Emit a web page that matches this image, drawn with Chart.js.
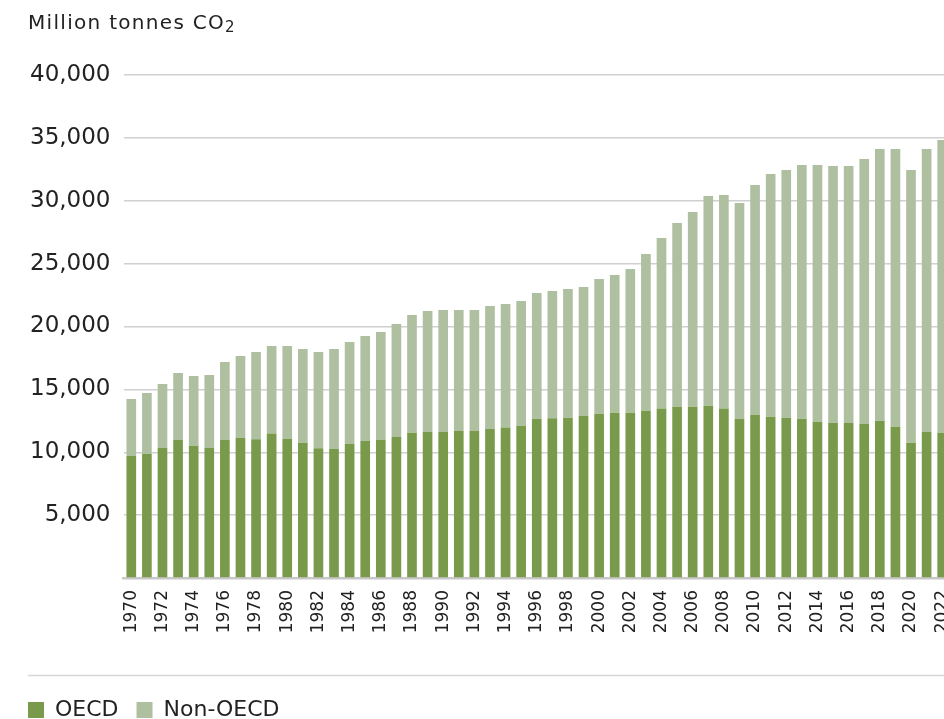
<!DOCTYPE html>
<html><head><meta charset="utf-8">
<script src="https://cdn.jsdelivr.net/npm/chart.js@4"></script>
<style>
html,body{margin:0;padding:0;background:#fff;overflow:hidden;width:944px;height:719px;}
#sub{position:absolute;left:28px;top:10px;font-family:"DejaVu Sans";font-size:20px;line-height:24px;letter-spacing:1.3px;color:#222;white-space:nowrap;z-index:2;}
#sub span{font-size:15px;position:relative;top:3px;}
#c{position:absolute;left:0;top:0;}
</style></head>
<body>
<div id="sub">Million tonnes CO<span>2</span></div>
<canvas id="c" width="950" height="731"></canvas>
<script>
const years = ['1970','1971','1972','1973','1974','1975','1976','1977','1978','1979',
  '1980','1981','1982','1983','1984','1985','1986','1987','1988','1989',
  '1990','1991','1992','1993','1994','1995','1996','1997','1998','1999',
  '2000','2001','2002','2003','2004','2005','2006','2007','2008','2009',
  '2010','2011','2012','2013','2014','2015','2016','2017','2018','2019',
  '2020','2021','2022'];
const oecd = [9700,9860,10340,10970,10500,10340,10970,11130,11030,11500,
  11050,10760,10310,10260,10680,10895,10970,11210,11560,11610,
  11610,11690,11690,11850,11960,12110,12670,12700,12750,12880,
  13070,13150,13150,13310,13470,13625,13625,13700,13470,12640,
  12990,12830,12750,12670,12430,12350,12330,12270,12510,12030,
  10760,11610,11560];
const nonOecd = [4535,4850,5090,5330,5560,5800,6210,6520,6940,6950,
  7400,7450,7660,7950,8090,8350,8590,8990,9355,9620,
  9700,9620,9620,9780,9830,9920,9990,10120,10230,10260,
  10710,10950,11420,12460,13570,14605,15475,16680,16990,17180,
  18260,19300,19700,20170,20410,20410,20430,21050,21610,22090,
  21690,22510,23270];
const yTickStep = 5000;
const yMax = 40000;

const sepPlugin = {
  id:'sep',
  afterDraw(chart){
    const c = chart.ctx, lg = chart.legend;
    c.save();
    c.strokeStyle = '#d6d6d6';
    c.lineWidth = 1.5;
    c.beginPath();
    const y = Math.round(lg.top - 6) + 0.5;
    c.moveTo(28, y); c.lineTo(chart.width, y);
    c.stroke();
    c.restore();
  }
};

new Chart(document.getElementById('c'), {
  type:'bar',
  data:{labels:years, datasets:[
    {label:'OECD', data:oecd, backgroundColor:'#7a9a4b', stack:'s'},
    {label:'Non-OECD', data:nonOecd, backgroundColor:'#afc0a0', stack:'s'}
  ]},
  options:{
    responsive:false, animation:false,
    layout:{padding:{top:75,left:10,right:0,bottom:0}, autoPadding:false},
    datasets:{bar:{categoryPercentage:1, barPercentage:0.62}},
    plugins:{
      legend:{position:'bottom', align:'start',
        labels:{boxWidth:16, boxHeight:16, padding:18, color:'#222', font:{family:'DejaVu Sans', size:22}}},
      tooltip:{enabled:false}
    },
    scales:{
      x:{stacked:true,
        grid:{display:false, drawTicks:false},
        border:{display:true, color:'#c8c8c8', width:2.5},
        ticks:{autoSkip:false, minRotation:90, maxRotation:90, padding:12, color:'#222',
          font:{family:'DejaVu Sans', size:17},
          callback:(v,i)=> i%2===0 ? years[i] : ''},
        afterFit:s=>{ s.height = 103; s.paddingLeft = 0; s.paddingRight = 0; }
      },
      y:{stacked:true, min:0, max:yMax,
        ticks:{stepSize:yTickStep, padding:13, color:'#222',
          font:{family:'DejaVu Sans', size:23},
          callback:v=> v===0 ? '' : v.toLocaleString('en-US')},
        grid:{color:'#d0d0d0', lineWidth:1.5, drawTicks:false},
        border:{display:false},
        afterFit:s=>{ s.width = 113.5; s.paddingTop = 0; s.paddingBottom = 0; }
      }
    }
  },
  plugins:[sepPlugin]
});
</script>
</body></html>
